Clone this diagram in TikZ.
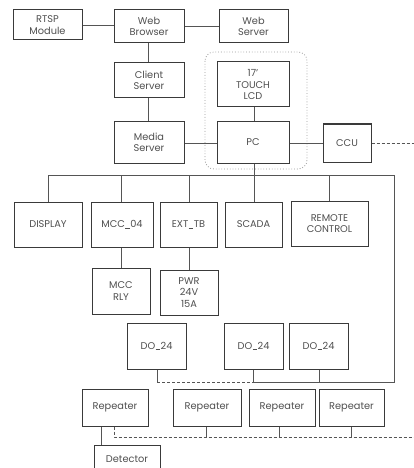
\documentclass[tikz,border=0pt]{standalone}
\usepackage{fontspec}
\setmainfont{Poppins}
\definecolor{boxc}{HTML}{3A3A3A}
\definecolor{linec}{HTML}{555555}
\definecolor{txtc}{HTML}{505050}
\newcommand{\us}{\kern0.3pt\rule[-0.8pt]{4.8pt}{0.6pt}\kern0.3pt}
\tikzset{
  x=1pt,y=-1pt,
  blk/.style={draw=boxc,line width=1pt,fill=white,inner sep=0pt,align=center,
    font=\fontsize{9.8}{11.5}\selectfont,text=txtc},
  con/.style={draw=linec,line width=0.9pt},
  dcon/.style={draw=linec,line width=0.9pt,dash pattern=on 3pt off 2pt},
  grp/.style={draw=gray!80,line width=0.8pt,dotted,rounded corners=9pt},
}
\newcommand{\bx}[6]{% name, x1, x2, y1, y2, text
  \node[blk,minimum width={#3-#2},minimum height={#5-#4}] (#1) at ({(#2+#3)/2},{(#4+#5)/2}) {#6};}
\begin{document}
\begin{tikzpicture}
\useasboundingbox (0,0) rectangle (414,468);
\clip (0,0) rectangle (414,468);
% group
\draw[grp] (205,52) rectangle (307,169);
% boxes
\bx{rtsp}{13}{82}{10}{40}{RTSP\\Module}
\bx{web}{114}{184}{10}{43}{Web\\Browser}
\bx{wsrv}{219}{288}{10}{43}{Web\\Server}
\bx{client}{114}{184}{63}{98}{Client\\Server}
\bx{media}{114}{184}{122}{163}{Media\\Server}
\bx{lcd}{217}{289}{62}{107}{17'\\TOUCH\\LCD}
\bx{pc}{217}{289}{122}{163}{PC}
\bx{ccu}{323}{371}{124}{162}{CCU}
\bx{disp}{14}{82}{202}{247}{DISPLAY}
\bx{mcc}{91}{153}{202}{247}{MCC\us04}
\bx{ext}{160}{217}{202}{247}{EXT\us TB}
\bx{scada}{225}{282}{202}{247}{SCADA}
\bx{remote}{291}{368}{201}{246}{REMOTE\\CONTROL}
\bx{rly}{92}{150}{268}{314}{MCC\\RLY}
\bx{pwr}{160}{218}{270}{315}{PWR\\24V\\15A}
\bx{doa}{127}{186}{323}{369}{DO\us24}
\bx{dob}{224}{283}{323}{369}{DO\us24}
\bx{doc}{289}{348}{323}{369}{DO\us24}
\bx{repa}{82}{148}{389}{426}{Repeater}
\bx{repb}{173}{241}{389}{426}{Repeater}
\bx{repc}{249}{315}{389}{426}{Repeater}
\bx{repd}{319}{384}{389}{426}{Repeater}
\bx{det}{94}{160}{445}{473}{Detector}
% coordinates
\coordinate (busL) at (48,175);
\coordinate (busR) at (394,175);
\coordinate (busB) at (394,382);
\coordinate (doj) at (253,382);
\coordinate (ccuEnd) at (414,143);
\coordinate (rbusR) at (414,437);
% connectors
\draw[con] (rtsp.east) -- (web.west |- rtsp.east);
\draw[con] (web.east) -- (wsrv.west);
\draw[con] (web.south -| 148,0) -- (client.north -| 148,0);
\draw[con] (client.south -| 148,0) -- (media.north -| 148,0);
\draw[con] (media.east |- 0,143) -- (pc.west |- 0,143);
\draw[con] (pc.east |- 0,143) -- (ccu.west |- 0,143);
\draw[dcon] (ccu.east |- ccuEnd) -- (ccuEnd);
\draw[con] (lcd.south -| 254,0) -- (pc.north -| 254,0);
\draw[con] (pc.south -| 254,0) -- (scada.north -| 254,0);
\draw[con] (disp.north -| busL) -- (busL) -- (busR) -- (busB) -- (doj);
\draw[con] (mcc.north -| 121,0) -- (121,175);
\draw[con] (ext.north -| 189,0) -- (189,175);
\draw[con] (remote.north -| 329,0) -- (329,175);
\draw[con] (mcc.south -| 121,0) -- (rly.north -| 121,0);
\draw[con] (ext.south -| 189,0) -- (pwr.north -| 189,0);
\draw[con] (doa.south -| 157,0) -- (157,382);
\draw[dcon] (157,382) -- (doj);
\draw[con] (dob.south -| doj) -- (doj);
\draw[con] (doc.south -| 319,0) -- (319,382);
\draw[con] (repa.south -| 101,0) -- (det.north -| 101,0);
\draw[dcon] (repa.south -| 114,0) -- (114,437) -- (rbusR);
\draw[con] (repb.south -| 206,0) -- (206,437);
\draw[con] (repc.south -| 279,0) -- (279,437);
\draw[con] (repd.south -| 351,0) -- (351,437);
\end{tikzpicture}
\end{document}
